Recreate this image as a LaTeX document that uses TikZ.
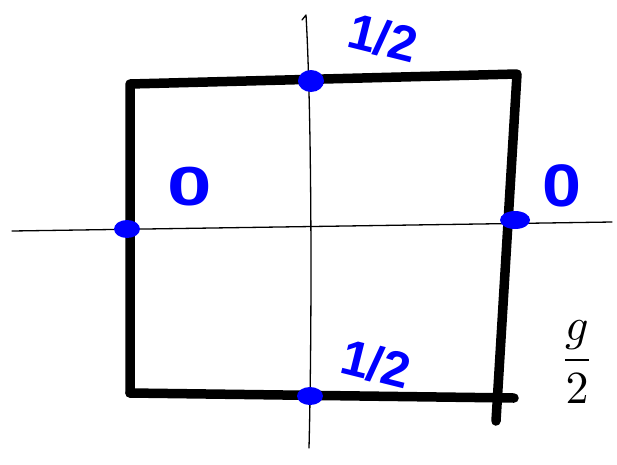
\documentclass[tikz,border=0pt]{standalone}
\usepackage{fontspec}
\setmainfont{Liberation Sans}
\begin{document}
\begin{tikzpicture}[x=1pt, y=-1pt, line cap=round, line join=round,
    axis/.style={line width=1.3pt},
    edge/.style={line width=9.5pt},
    val/.style={text=blue, font=\fontsize{50}{50}\selectfont\bfseries, inner sep=0pt}]
    \useasboundingbox (0,0) rectangle (617,464);

    % axes
    \coordinate (xl) at (12,231);
    \coordinate (xr) at (612,222);
    \coordinate (yt) at (306,15);
    \coordinate (yb) at (309,448);
    \draw[axis] (xl) -- (xr);
    \draw[axis] (302,20) -- (yt) .. controls (312,120) and (312,330) .. (yb);

    % box
    \coordinate (tl) at (130,84);
    \coordinate (tr) at (517,74);
    \coordinate (br) at (514,398);
    \coordinate (bl) at (130,393);
    \coordinate (tail) at (496,421);
    \draw[edge] (bl) -- (tl) -- (tr) -- (tail);
    \draw[edge] (bl) -- (br);

    % boundary values
    \fill[blue] (311,81) ellipse (13 and 11);
    \fill[blue] (127,229) ellipse (13 and 9);
    \fill[blue] (515,220) ellipse (15 and 9);
    \fill[blue] (310,396) ellipse (13 and 9);

    \node[val, rotate=-14] (top) at (383,38) {1/2};
    \node[val, rotate=-14] (bot) at (376,364) {1/2};
    \node[val, xscale=1.6, yscale=1.1] (left) at (190,187) {0};
    \node[val, xscale=1.4, yscale=1.2] (right) at (562,186) {0};

    \node[inner sep=0pt] (frac) at (577,362) {\scalebox{4.6}{\(\displaystyle\frac{g}{2}\)}};
\end{tikzpicture}
\end{document}
